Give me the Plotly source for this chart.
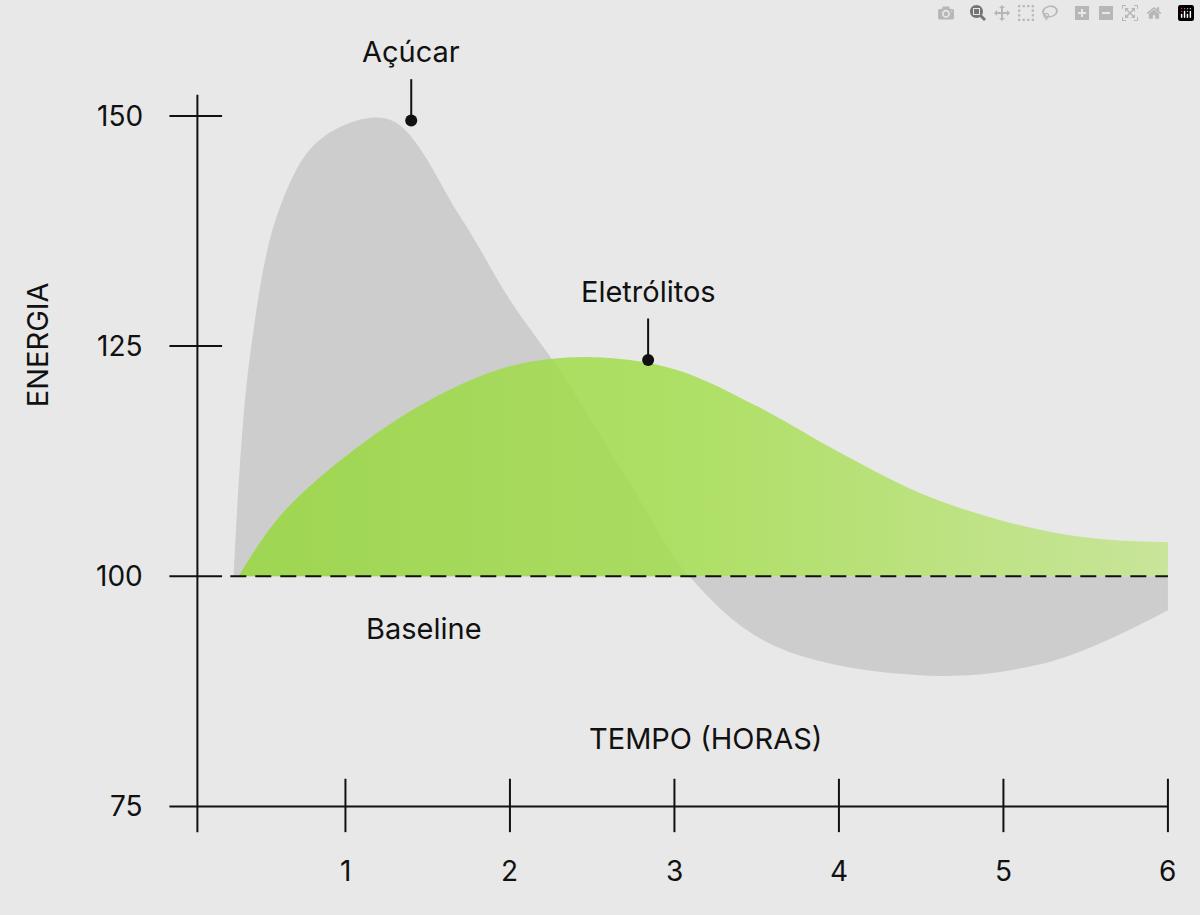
import plotly.graph_objects as go

# data
acucar_x = [0.32, 0.42, 0.6, 0.85, 1.27, 1.7, 2.0, 2.3, 2.7, 3.09, 3.6, 4.55, 5.3, 6.0]
acucar_y = [100, 124, 140, 147.5, 149.6, 139, 130, 122.4, 111, 100, 92.5, 89.2, 90.8, 96.3]
eletro_x = [0.35, 0.6, 1.0, 1.5, 2.0, 2.5, 3.0, 3.5, 4.0, 4.5, 5.0, 5.5, 6.0]
eletro_y = [100, 106.5, 113, 119, 122.8, 123.8, 122.5, 118.5, 113.5, 109, 106, 104.2, 103.7]
x_ticks = [1, 2, 3, 4, 5, 6]
y_ticks = [75, 100, 125, 150]
baseline = 100

FONT = "Inter"
INK = "#111111"

fig = go.Figure()

# baseline helper for fills
fig.add_trace(go.Scatter(x=[0.32, 6], y=[baseline, baseline], mode="lines",
                         line=dict(width=0), showlegend=False, hoverinfo="skip"))
fig.add_trace(go.Scatter(x=acucar_x, y=acucar_y, mode="lines",
                         line=dict(width=0, shape="spline", smoothing=1.0),
                         fill="tonexty", fillcolor="rgba(196,196,196,0.75)", showlegend=False))
fig.add_trace(go.Scatter(x=[0.35, 6], y=[baseline, baseline], mode="lines",
                         line=dict(width=0), showlegend=False, hoverinfo="skip"))
fig.add_trace(go.Scatter(x=eletro_x, y=eletro_y, mode="lines", line=dict(width=0, shape="spline"),
                         fill="tonexty",
                         fillgradient=dict(type="horizontal",
                                           colorscale=[[0, "rgba(150,215,60,0.85)"],
                                                       [0.5, "rgba(165,222,80,0.85)"],
                                                       [1, "rgba(195,228,140,0.85)"]]),
                         showlegend=False))
# dashed baseline
fig.add_trace(go.Scatter(x=[0.3, 6], y=[baseline, baseline], mode="lines",
                         line=dict(color=INK, width=2, dash="16px,9px"), showlegend=False))
# callout dots
fig.add_trace(go.Scatter(x=[1.4, 2.84], y=[149.5, 123.5], mode="markers",
                         marker=dict(color=INK, size=12), showlegend=False))

shapes = []
# axes
shapes.append(dict(type="line", x0=0.1, x1=0.1, y0=72.2, y1=152.3, line=dict(color=INK, width=2)))
shapes.append(dict(type="line", x0=-0.07, x1=6, y0=75, y1=75, line=dict(color=INK, width=2)))
for v in y_ticks[1:]:
    shapes.append(dict(type="line", x0=-0.07, x1=0.25, y0=v, y1=v, line=dict(color=INK, width=2)))
for v in x_ticks:
    shapes.append(dict(type="line", x0=v, x1=v, y0=72.2, y1=78, line=dict(color=INK, width=2)))
# callout stems
shapes.append(dict(type="line", x0=1.4, x1=1.4, y0=149.5, y1=154, line=dict(color=INK, width=2)))
shapes.append(dict(type="line", x0=2.84, x1=2.84, y0=123.5, y1=128, line=dict(color=INK, width=2)))

ann = []
for v in y_ticks:
    ann.append(dict(x=-0.22, y=v, text=str(v), showarrow=False, xanchor="right", font=dict(size=28)))
for v in x_ticks:
    ann.append(dict(x=v, y=68, text=str(v), showarrow=False, font=dict(size=28)))
ann += [
    dict(x=1.4, y=157, text="Açúcar", showarrow=False, font=dict(size=29)),
    dict(x=2.84, y=130.9, text="Eletrólitos", showarrow=False, font=dict(size=29)),
    dict(x=1.48, y=94.3, text="Baseline", showarrow=False, font=dict(size=29)),
    dict(x=3.19, y=82.4, text="TEMPO (HORAS)", showarrow=False, font=dict(size=29)),
    dict(x=-0.875, y=125.1, text="ENERGIA", showarrow=False, textangle=-90, font=dict(size=29)),
]

fig.update_layout(
    width=1200, height=915,
    margin=dict(l=0, r=0, t=0, b=0),
    paper_bgcolor="#e8e8e8", plot_bgcolor="#e8e8e8",
    font=dict(family=FONT, color=INK),
    xaxis=dict(range=[-1.1, 6.195], visible=False),
    yaxis=dict(range=[63.2, 162.6], visible=False),
    shapes=shapes, annotations=ann,
)

fig.write_html("out.html", post_script="document.body.style.margin='0';")
